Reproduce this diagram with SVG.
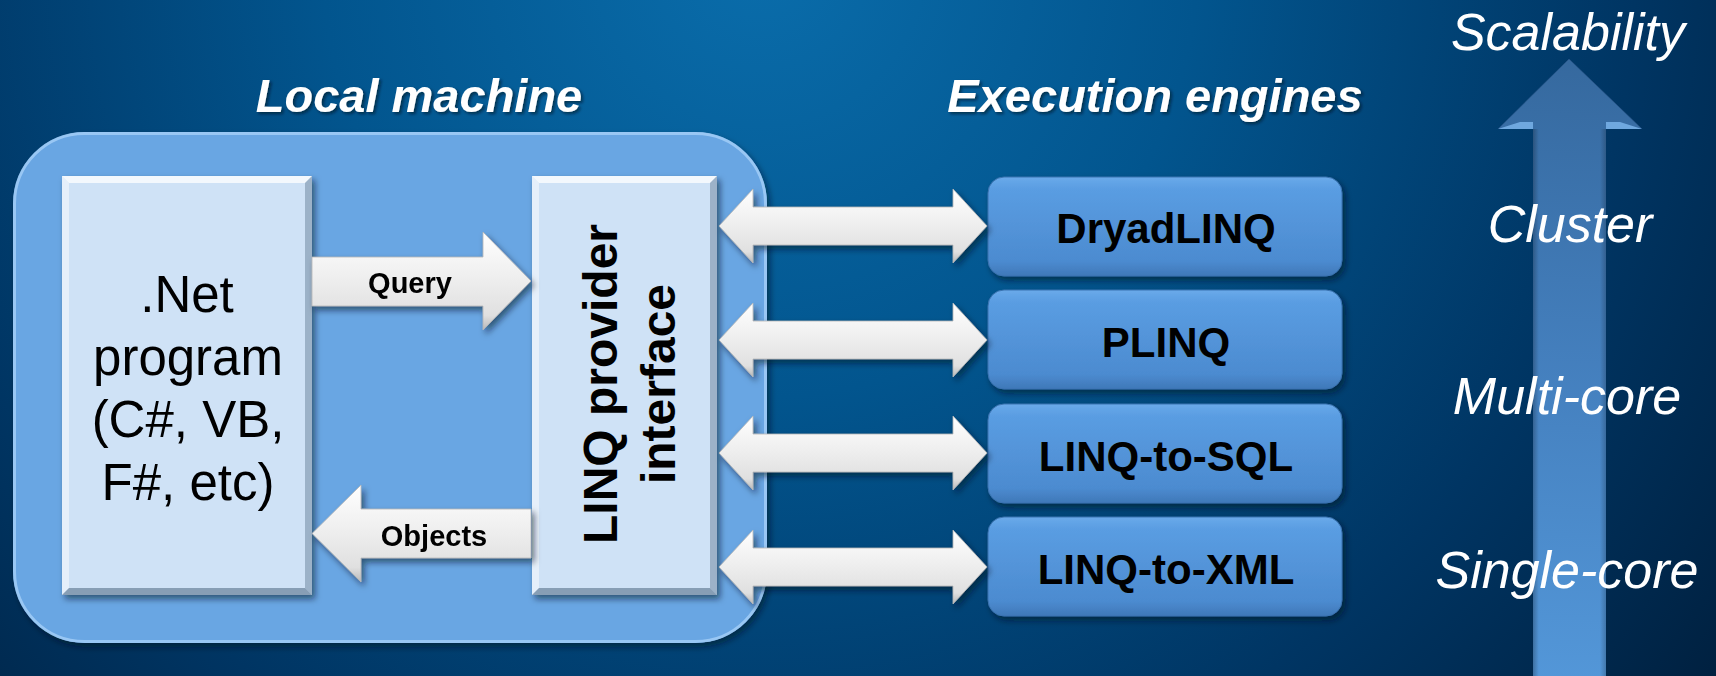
<svg xmlns="http://www.w3.org/2000/svg" width="1716" height="676" viewBox="0 0 1716 676">
  <defs>
    <radialGradient id="bg" cx="760" cy="-40" r="1250" gradientUnits="userSpaceOnUse">
      <stop offset="0" stop-color="#0a6dab"/>
      <stop offset="0.35" stop-color="#02558e"/>
      <stop offset="0.7" stop-color="#003563"/>
      <stop offset="1" stop-color="#001d3a"/>
    </radialGradient>
    <linearGradient id="engine" x1="0" y1="0" x2="0" y2="1">
      <stop offset="0" stop-color="#6aaaea"/>
      <stop offset="0.12" stop-color="#5a9de2"/>
      <stop offset="0.85" stop-color="#4c8bd0"/>
      <stop offset="1" stop-color="#3f78b8"/>
    </linearGradient>
    <linearGradient id="warrow" x1="0" y1="0" x2="0" y2="1">
      <stop offset="0" stop-color="#ffffff"/>
      <stop offset="0.45" stop-color="#efefef"/>
      <stop offset="0.85" stop-color="#e0e0e0"/>
      <stop offset="1" stop-color="#b9b9b9"/>
    </linearGradient>
    <linearGradient id="bigarrow" x1="0" y1="0" x2="0" y2="1">
      <stop offset="0" stop-color="#3a6da3"/>
      <stop offset="0.5" stop-color="#4a86c6"/>
      <stop offset="1" stop-color="#5aa0e4"/>
    </linearGradient>
    <linearGradient id="shaftEdge" x1="0" y1="0" x2="1" y2="0">
      <stop offset="0" stop-color="#000" stop-opacity="0.25"/>
      <stop offset="0.08" stop-color="#000" stop-opacity="0"/>
      <stop offset="0.92" stop-color="#000" stop-opacity="0"/>
      <stop offset="1" stop-color="#000" stop-opacity="0.2"/>
    </linearGradient>
    <filter id="shadow" x="-10%" y="-10%" width="130%" height="130%">
      <feDropShadow dx="3" dy="4" stdDeviation="3" flood-color="#001020" flood-opacity="0.55"/>
    </filter>
    <filter id="tshadow" x="-5%" y="-20%" width="110%" height="150%">
      <feDropShadow dx="2" dy="2" stdDeviation="1.5" flood-color="#001020" flood-opacity="0.6"/>
    </filter>
    <style>
      .title { font-family: "Liberation Sans", Arial, sans-serif; font-weight: bold; font-style: italic; font-size: 47px; fill: #ffffff; text-anchor: middle; }
      .scale { font-family: "Liberation Sans", Arial, sans-serif; font-style: italic; font-size: 52px; fill: #ffffff; text-anchor: middle; }
      .prog { font-family: "Liberation Sans", Arial, sans-serif; font-size: 51px; fill: #000000; text-anchor: middle; }
      .linq { font-family: "Liberation Sans", Arial, sans-serif; font-weight: bold; font-size: 48px; fill: #000000; text-anchor: middle; }
      .eng { font-family: "Liberation Sans", Arial, sans-serif; font-weight: bold; font-size: 42px; fill: #000000; text-anchor: middle; }
      .albl { font-family: "Liberation Sans", Arial, sans-serif; font-weight: bold; font-size: 29px; fill: #000000; text-anchor: middle; }
      .inner { fill: #cfe2f6; }
      .hl { fill: #ffffff; opacity: 0.75; }
      .hl2 { fill: #ffffff; opacity: 0.45; }
      .dk { fill: #5d7791; opacity: 0.45; }
      .dk2 { fill: #4d6680; opacity: 0.55; }
      .engbox { fill: url(#engine); stroke: #3b73b0; stroke-width: 1; }
      .wa { fill: url(#warrow); stroke: #b5b5b5; stroke-width: 0.8; }
    </style>
  </defs>

  <!-- background -->
  <rect x="0" y="0" width="1716" height="676" fill="url(#bg)"/>

  <!-- titles -->
  <g id="titles" filter="url(#tshadow)">
    <text class="title" x="419" y="112">Local machine</text>
    <text class="title" x="1155" y="112">Execution engines</text>
  </g>

  <!-- local machine container -->
  <g id="local-machine">
    <rect x="13" y="132" width="754" height="511" rx="72" ry="72" fill="#69a6e3" filter="url(#shadow)"/>
    <rect x="14.5" y="133.5" width="751" height="508" rx="70" ry="70" fill="none" stroke="#a5d0f7" stroke-width="3" opacity="0.8"/>
  </g>

  <!-- .Net program -->
  <g id="dotnet-program">
    <rect class="inner" x="62" y="176" width="250" height="419" filter="url(#shadow)"/>
    <polygon class="hl" points="62,176 312,176 305,183 69,183"/>
    <polygon class="hl2" points="62,176 69,183 69,588 62,595"/>
    <polygon class="dk" points="312,176 312,595 305,588 305,183"/>
    <polygon class="dk2" points="62,595 312,595 305,588 69,588"/>
    <text class="prog" x="187" y="312">.Net</text>
    <text class="prog" x="188" y="375">program</text>
    <text class="prog" x="188" y="437">(C#, VB,</text>
    <text class="prog" x="188" y="500">F#, etc)</text>
  </g>

  <!-- LINQ provider interface -->
  <g id="linq-provider">
    <rect class="inner" x="532" y="176" width="185" height="419" filter="url(#shadow)"/>
    <polygon class="hl" points="532,176 717,176 710,183 539,183"/>
    <polygon class="hl2" points="532,176 539,183 539,588 532,595"/>
    <polygon class="dk" points="717,176 717,595 710,588 710,183"/>
    <polygon class="dk2" points="532,595 717,595 710,588 539,588"/>
    <g transform="translate(0,384) rotate(-90)">
      <text class="linq" x="0" y="617">LINQ provider</text>
      <text class="linq" x="0" y="675">interface</text>
    </g>
  </g>

  <!-- execution engines -->
  <g id="dryadlinq">
    <rect class="engbox" x="988" y="177" width="354" height="99" rx="16" ry="16" filter="url(#shadow)"/>
    <text class="eng" x="1166" y="243">DryadLINQ</text>
  </g>
  <g id="plinq">
    <rect class="engbox" x="988" y="290" width="354" height="99" rx="16" ry="16" filter="url(#shadow)"/>
    <text class="eng" x="1166" y="357">PLINQ</text>
  </g>
  <g id="linq-to-sql">
    <rect class="engbox" x="988" y="404" width="354" height="99" rx="16" ry="16" filter="url(#shadow)"/>
    <text class="eng" x="1166" y="471">LINQ-to-SQL</text>
  </g>
  <g id="linq-to-xml">
    <rect class="engbox" x="988" y="517" width="354" height="99" rx="16" ry="16" filter="url(#shadow)"/>
    <text class="eng" x="1166" y="584">LINQ-to-XML</text>
  </g>

  <!-- connectors -->
  <g id="connectors" filter="url(#shadow)">
    <g id="query-arrow">
      <path class="wa" d="M312,257 H483 V232 L531,281 L483,330 V306 H312 Z"/>
      <text class="albl" x="410" y="293">Query</text>
    </g>
    <g id="objects-arrow">
      <path class="wa" d="M531,509 H361 V485 L312,533.5 L361,582 V558 H531 Z"/>
      <text class="albl" x="434" y="546">Objects</text>
    </g>
    <path class="wa" d="M719,226 L753,189 V207 H953 V189 L987,226 L953,263 V245 H753 V263 Z"/>
    <path class="wa" d="M719,340 L753,303 V321 H953 V303 L987,340 L953,377 V359 H753 V377 Z"/>
    <path class="wa" d="M719,453 L753,416 V434 H953 V416 L987,453 L953,490 V472 H753 V490 Z"/>
    <path class="wa" d="M719,567 L753,530 V548 H953 V530 L987,567 L953,604 V586 H753 V604 Z"/>
  </g>

  <!-- scalability arrow -->
  <g id="scalability-arrow">
    <path d="M1533,676 V129 H1498 L1569,59 L1642,129 H1606 V676 Z" fill="url(#bigarrow)" opacity="0.92"/>
    <rect x="1533" y="129" width="73" height="547" fill="url(#shaftEdge)"/>
    <polygon points="1498,129 1520,122 1533,122 1533,129" fill="#7db6ee" opacity="0.8"/>
    <polygon points="1642,129 1620,122 1606,122 1606,129" fill="#7db6ee" opacity="0.8"/>
    <path d="M1498,129 L1569,59 L1642,129" fill="none" stroke="#2a5588" stroke-width="1" opacity="0.6"/>
  </g>

  <!-- scalability labels -->
  <g id="scale-labels">
    <text class="scale" x="1568" y="50">Scalability</text>
    <text class="scale" x="1570" y="242">Cluster</text>
    <text class="scale" x="1567" y="414">Multi-core</text>
    <text class="scale" x="1567" y="588">Single-core</text>
  </g>
</svg>
